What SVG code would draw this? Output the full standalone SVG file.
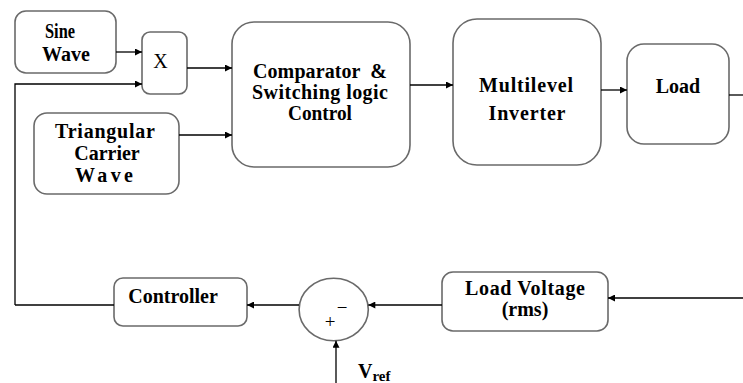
<svg xmlns="http://www.w3.org/2000/svg" width="743" height="383" viewBox="0 0 743 383">
<defs>
<marker id="ah" viewBox="0 0 10 10" refX="10" refY="5" markerWidth="9" markerHeight="7" markerUnits="userSpaceOnUse" orient="auto">
<path d="M0,0 L10,5 L0,10 z" fill="#000"/>
</marker>
<style>
.box{fill:#fff;stroke:#6a6a6a;stroke-width:1.6}
.t{font-family:'Liberation Serif','DejaVu Serif',serif;font-weight:bold;font-size:20px;fill:#000;text-anchor:middle}
.r{font-family:'Liberation Serif','DejaVu Serif',serif;font-size:20px;fill:#000;text-anchor:middle}
.s{font-family:'Liberation Serif','DejaVu Serif',serif;font-size:19px;fill:#000;text-anchor:middle}
.ln{fill:none;stroke:#000;stroke-width:1.3}
.arr{fill:none;stroke:#000;stroke-width:1.3;marker-end:url(#ah)}
</style>
</defs>
<rect width="743" height="383" fill="#fff"/>

<g id="sine">
<rect class="box" x="15" y="11" width="101" height="62" rx="11"/>
<text class="t" x="60" y="38" textLength="30" lengthAdjust="spacingAndGlyphs">Sine</text>
<text class="t" x="66" y="61">Wave</text>
</g>

<g id="mult">
<rect class="box" x="142" y="32" width="45" height="62" rx="8"/>
<text class="r" x="160.5" y="68">X</text>
</g>

<g id="triangular">
<rect class="box" x="34" y="113" width="145" height="81" rx="13"/>
<text class="t" x="105" y="138" textLength="100" lengthAdjust="spacing">Triangular</text>
<text class="t" x="107" y="160">Carrier</text>
<text class="t" x="104" y="182" textLength="58" lengthAdjust="spacing">Wave</text>
</g>

<g id="comparator">
<rect class="box" x="232" y="22" width="178" height="145" rx="22"/>
<text class="t" x="320" y="78" textLength="134" lengthAdjust="spacing" xml:space="preserve">Comparator  &amp;</text>
<text class="t" x="320" y="99" textLength="136" lengthAdjust="spacing">Switching logic</text>
<text class="t" x="320" y="120" textLength="64" lengthAdjust="spacingAndGlyphs">Control</text>
</g>

<g id="inverter">
<rect class="box" x="453" y="19" width="148" height="146" rx="24"/>
<text class="t" x="526" y="92" textLength="94" lengthAdjust="spacing">Multilevel</text>
<text class="t" x="527" y="120" textLength="77" lengthAdjust="spacing">Inverter</text>
</g>

<g id="load">
<rect class="box" x="627" y="44" width="102" height="100" rx="17"/>
<text class="t" x="678" y="93">Load</text>
</g>

<g id="loadvoltage">
<rect class="box" x="442" y="272" width="166" height="59" rx="11"/>
<text class="t" x="525" y="295" textLength="120" lengthAdjust="spacing">Load Voltage</text>
<text class="t" x="525" y="316">(rms)</text>
</g>

<g id="summer">
<ellipse class="box" cx="333.7" cy="309.5" rx="34.6" ry="31.2"/>
<text class="s" x="342" y="314">−</text>
<text class="s" x="330" y="328">+</text>
</g>

<g id="controller">
<rect class="box" x="114" y="278" width="133" height="48" rx="9"/>
<text class="t" x="173" y="303">Controller</text>
</g>

<g id="vref">
<text class="t" x="358" y="378" style="text-anchor:start">V<tspan font-size="15" dy="3">ref</tspan></text>
</g>

<g id="connectors">
<path class="arr" d="M116,52 H142"/>
<path class="arr" d="M15,305 V84 H142"/>
<path class="arr" d="M187,68 H232"/>
<path class="arr" d="M179,135 H232"/>
<path class="arr" d="M410,85 H453"/>
<path class="arr" d="M601,90 H627"/>
<path class="ln" d="M729,95 H743"/>
<path class="arr" d="M743,298 H608"/>
<path class="arr" d="M442,305 H368.3"/>
<path class="arr" d="M299,305 H247"/>
<path class="ln" d="M114,305 H15"/>
<path class="arr" d="M336,383 V340.7"/>
</g>
</svg>
